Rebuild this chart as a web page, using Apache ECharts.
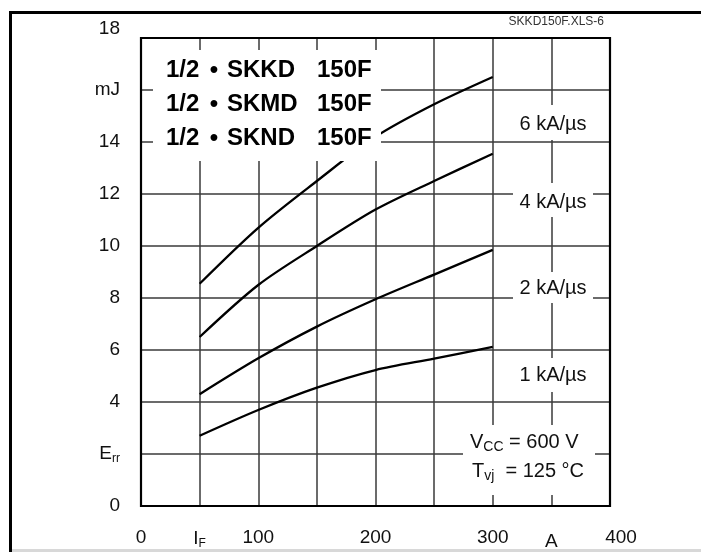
<!DOCTYPE html>
<html>
<head>
<meta charset="utf-8">
<script src="https://cdn.jsdelivr.net/npm/echarts@6/dist/echarts.min.js"></script>
<style>
  html, body { margin: 0; padding: 0; background: #fff; }
  #chart { width: 701px; height: 552px; }
</style>
</head>
<body>
<div id="chart"></div>
<script>
// forward current I_F (A)
const currents = [50, 100, 150, 200, 250, 300]
// E_rr (mJ) per di/dt curve
const err1 = [2.7, 3.69, 4.55, 5.23, 5.67, 6.12]
const err2 = [4.3, 5.68, 6.9, 7.95, 8.9, 9.85]
const err4 = [6.5, 8.5, 10.0, 11.4, 12.5, 13.55]
const err6 = [8.55, 10.7, 12.5, 14.2, 15.45, 16.5]
const curveNames = ['1 kA/µs', '2 kA/µs', '4 kA/µs', '6 kA/µs']
// tick labels (blank where the sheet has none)
const xTickLabels = { 0: '0', 50: '{v|I}{sub|F}', 100: '100', 200: '200', 300: '300', 350: '{a|A}', 400: '{r|400}' }
const yTickLabels = { 0: '0', 2: '{v|E}{sub|rr}', 4: '4', 6: '6', 8: '8', 10: '10', 12: '12', 14: '14', 16: 'mJ', 18: '{t|18}' }

const FONT = 'Liberation Sans, Arial, Helvetica, sans-serif'

var chartDom = document.getElementById('chart')
var myChart = echarts.init(chartDom)

const toPairs = (vals) => currents.map((c, i) => [c, vals[i]])
const allCurves = [err1, err2, err4, err6]

const subRich = {
  v: { fontSize: 19, lineHeight: 22, fontFamily: FONT, color: '#111' },
  sub: { fontSize: 12, lineHeight: 8, verticalAlign: 'bottom', fontFamily: FONT, color: '#111' }
}

// white boxes that hide the grid behind the labels
const whiteBox = (x, y, w, h) => ({
  type: 'rect', z: 50, silent: true,
  shape: { x: x, y: y, width: w, height: h },
  style: { fill: '#fff' }
})
const txt = (x, y, text, extra) => ({
  type: 'text', z: 60, silent: true, x: x, y: y,
  style: Object.assign({
    text: text, font: '20px ' + FONT, fill: '#111',
    align: 'center', verticalAlign: 'middle'
  }, extra || {})
})
const titleFont = 'bold 24px ' + FONT
const titleLines = [['SKKD', 70], ['SKMD', 104], ['SKND', 138]]

const graphics = [
  // sheet frame
  { type: 'rect', z: 0, silent: true, shape: { x: 9, y: 11, width: 692, height: 3 }, style: { fill: '#000' } },
  { type: 'rect', z: 0, silent: true, shape: { x: 9, y: 11, width: 3, height: 541 }, style: { fill: '#000' } },
  { type: 'rect', z: 0, silent: true, shape: { x: 12, y: 549, width: 689, height: 3 }, style: { fill: '#d8d8d8' } },
  txt(604, 22, 'SKKD150F.XLS-6', { font: '12px ' + FONT, align: 'right', fill: '#333' }),

  whiteBox(153, 50, 228, 111),
  whiteBox(513, 105, 80, 35),
  whiteBox(513, 183, 80, 34),
  whiteBox(513, 272, 80, 31),
  whiteBox(513, 358, 80, 34),
  whiteBox(463, 425, 132, 70),

  txt(553, 124, curveNames[3]),
  txt(553, 202, curveNames[2]),
  txt(553, 288, curveNames[1]),
  txt(553, 375, curveNames[0]),

  txt(470, 442, '{v|V}{sub|CC}{v| = 600 V}', {
    align: 'left',
    rich: {
      v: { font: '20px ' + FONT, lineHeight: 24, fill: '#111' },
      sub: { font: '14px ' + FONT, lineHeight: 9, verticalAlign: 'bottom', fill: '#111' }
    }
  }),
  txt(472, 471, '{v|T}{sub|vj}{v|  = 125 °C}', {
    align: 'left',
    rich: {
      v: { font: '20px ' + FONT, lineHeight: 24, fill: '#111' },
      sub: { font: '14px ' + FONT, lineHeight: 9, verticalAlign: 'bottom', fill: '#111' }
    }
  }),

  // plot border on top of everything
  { type: 'rect', z: 70, silent: true, shape: { x: 141, y: 38, width: 469, height: 468 },
    style: { fill: 'none', stroke: '#000', lineWidth: 2.2 } }
]
titleLines.forEach(function (l) {
  graphics.push(txt(166, l[1], '1/2', { font: titleFont, align: 'left', fill: '#000' }))
  graphics.push(txt(214, l[1], '•', { font: titleFont, fill: '#000' }))
  graphics.push(txt(227, l[1], l[0], { font: titleFont, align: 'left', fill: '#000' }))
  graphics.push(txt(317, l[1], '150F', { font: titleFont, align: 'left', fill: '#000' }))
})

var option = {
  animation: false,
  backgroundColor: '#fff',
  grid: { left: 141, top: 38, width: 469, height: 468, containLabel: false },
  xAxis: {
    type: 'value', min: 0, max: 400, interval: 50,
    axisLine: { show: true, lineStyle: { color: '#000', width: 2 } },
    axisTick: { show: false },
    splitLine: { show: true, lineStyle: { color: '#3a3a3a', width: 1.5 } },
    axisLabel: {
      margin: 22, fontSize: 19, fontFamily: FONT, color: '#111',
      formatter: (v) => xTickLabels[v] || '',
      rich: Object.assign({
        a: { fontSize: 19, fontFamily: FONT, color: '#111', padding: [4, 0, 0, 0] },
        r: { fontSize: 19, fontFamily: FONT, color: '#111', padding: [0, 0, 0, 22] }
      }, subRich)
    }
  },
  yAxis: {
    type: 'value', min: 0, max: 18, interval: 2,
    axisLine: { show: true, lineStyle: { color: '#000', width: 2 } },
    axisTick: { show: false },
    splitLine: { show: true, lineStyle: { color: '#3a3a3a', width: 1.5 } },
    axisLabel: {
      margin: 21, fontSize: 19, fontFamily: FONT, color: '#111',
      formatter: (v) => yTickLabels[v] || '',
      rich: Object.assign({
        t: { fontSize: 19, fontFamily: FONT, color: '#111', padding: [0, 0, 18, 0] }
      }, subRich)
    }
  },
  series: allCurves.map(function (vals, i) {
    return {
      name: curveNames[i],
      type: 'line',
      smooth: 0.3,
      symbol: 'none',
      z: 2,
      lineStyle: { color: '#000', width: 2.3 },
      data: toPairs(vals)
    }
  }),
  graphic: { elements: graphics }
}
option && myChart.setOption(option)
</script>
</body>
</html>
